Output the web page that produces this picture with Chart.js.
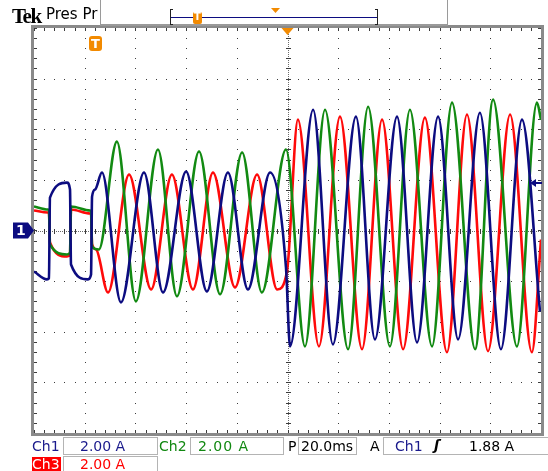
<!DOCTYPE html>
<html>
<head>
<meta charset="utf-8">
<script src="https://cdn.jsdelivr.net/npm/chart.js@4.4.1/dist/chart.umd.min.js"></script>
<style>
    body { margin: 0; background: #fff; }
    #scope { position: relative; width: 548px; height: 471px; overflow: hidden; font-family: 'DejaVu Sans', sans-serif; }
    #scope canvas { position: absolute; left: 0; top: 0; }
    .lbl { position: absolute; white-space: nowrap; font-size: 14px; line-height: 16px; }
    .box { position: absolute; border: 1px solid #b4b4b4; box-sizing: border-box; height: 18px; }
</style>
</head>
<body>
<div id="scope">
    <canvas id="scopeChart" width="548" height="471"></canvas>

    <div class="lbl" style="left:12px;top:4px;font:bold 21px 'Liberation Serif',serif;letter-spacing:-1.5px;">Tek</div>
    <div class="lbl" style="left:46px;top:6px;font-size:15px;">Pres Pr</div>
    <div class="lbl" style="left:194px;top:11px;color:#fff;font:bold 10px 'DejaVu Sans',sans-serif;">T</div>
    <div class="lbl" style="left:91px;top:36px;color:#fff;font:bold 13px 'DejaVu Sans',sans-serif;">T</div>
    <div class="lbl" style="left:16px;top:222px;color:#fff;font:bold 14px 'DejaVu Sans',sans-serif;">1</div>

    <div class="lbl" style="left:32px;top:438px;color:#1a1a8c;">Ch1</div>
    <div class="box" style="left:63px;top:437px;width:95px;"></div>
    <div class="lbl" style="left:80px;top:438px;color:#1a1a8c;">2.00 A</div>
    <div class="lbl" style="left:159px;top:438px;color:#118811;">Ch2</div>
    <div class="box" style="left:190px;top:437px;width:94px;"></div>
    <div class="lbl" style="left:198px;top:438px;color:#118811;letter-spacing:1px;">2.00 A</div>
    <div class="lbl" style="left:288px;top:438px;color:#000;">P</div>
    <div class="box" style="left:298px;top:437px;width:59px;"></div>
    <div class="lbl" style="left:301px;top:438px;color:#000;">20.0ms</div>
    <div class="lbl" style="left:370px;top:438px;color:#000;">A</div>
    <div class="box" style="left:383px;top:437px;width:170px;"></div>
    <div class="lbl" style="left:395px;top:438px;color:#1a1a8c;">Ch1</div>
    <div class="lbl" style="left:434px;top:437px;color:#000;font-weight:bold;font-style:italic;">ʃ</div>
    <div class="lbl" style="left:469px;top:438px;color:#000;">1.88 A</div>

    <div class="lbl" style="left:32px;top:457px;width:29px;height:14px;background:#ff0000;color:#fff;line-height:15px;">Ch3</div>
    <div class="box" style="left:63px;top:456px;width:95px;height:16px;"></div>
    <div class="lbl" style="left:80px;top:456px;color:#ff0000;">2.00 A</div>
</div>

<script>
// Horizontal 20 ms/div over 10 div, vertical 2 A/div over 8 div
const timeDivs = [0, 20, 40, 60, 80, 100, 120, 140, 160, 180, 200];
const ampDivs = [-8, -6, -4, -2, 0, 2, 4, 6, 8];

// Ch1 (blue), time in ms, current in A
const ch1Time = [0, 5.1, 5.9, 6.3, 13.0, 14.2, 14.6, 21.3, 22.5, 22.9, 24.1, 26.8, 34.3, 43.4, 50.9, 60.0, 68.2, 76.5, 84.4, 93.1,
    99.4, 101.0, 110.1, 117.9, 127.0, 134.5, 143.2, 151.1, 159.4, 167.3, 175.9, 184.2, 192.5, 199.6];
const ch1Amps = [-1.62, -1.93, -1.89, 1.30, 1.89, 1.62, -1.34, -1.93, -1.74, 1.34, 1.62, 2.29, -2.84, 2.29, -2.45, 2.33, -2.41, 2.29, -2.33, 2.29,
    -1.46, -4.58, 4.77, -4.50, 4.50, -4.30, 4.50, -4.42, 4.50, -4.30, 4.65, -4.69, 4.38, -3.2];

// Ch2 (green)
const ch2Time = [0, 5.5, 5.9, 6.3, 13.0, 14.2, 14.6, 22.1, 22.5, 22.9, 25.6, 32.7, 40.2, 48.9, 56.4, 65.1, 73.4, 82.1, 89.9, 99.4,
    106.9, 114.8, 123.9, 131.8, 140.4, 148.3, 157.0, 164.9, 174.0, 181.1, 190.5, 198.4, 200];
const ch2Amps = [0.95, 0.83, 0.82, -0.55, -0.95, -0.87, 0.95, 0.79, 0.78, -0.63, -0.75, 3.51, -2.80, 3.20, -2.60, 3.12, -2.52, 3.08, -2.45, 3.2,
    -4.58, 4.77, -4.69, 4.89, -4.58, 4.77, -4.58, 5.05, -4.69, 5.17, -4.58, 5.05, 4.38];

// Ch3 (red)
const ch3Time = [0, 5.5, 5.9, 6.3, 13.0, 14.2, 14.6, 22.1, 22.5, 22.9, 24.5, 29.2, 37.5, 46.2, 54.4, 62.7, 70.6, 79.3, 88.0, 95.9,
    99.8, 104.1, 112.4, 120.7, 129.4, 137.3, 145.6, 154.2, 162.9, 170.8, 179.1, 187.8, 196.4, 200];
const ch3Amps = [0.79, 0.71, 0.70, -0.47, -1.03, -0.95, 0.83, 0.67, 0.66, -0.55, -0.75, -2.45, 2.21, -2.33, 2.21, -2.33, 2.29, -2.25, 2.21, -2.33,
    -1.62, 4.38, -4.58, 4.50, -4.69, 4.38, -4.69, 4.46, -4.81, 4.58, -4.77, 4.58, -4.81, -0.36];

const triggerLevel = 1.88;

const COLORS = {
    ch1: '#0c0c80',
    ch2: '#128a12',
    ch3: '#ff0a0a',
    orange: '#f28a00',
    grid: '#3c3c3c',
    frame: '#8a8a8a'
};

function toPoints(times, amps) {
    return times.map((t, i) => ({ x: t, y: amps[i] }));
}

// Tek style graticule: dotted division lines, ticked centre cross, ticked frame
const graticule = {
    id: 'graticule',
    beforeDatasetsDraw(chart) {
        const { ctx, chartArea: a, scales: { x, y } } = chart;
        ctx.save();
        ctx.fillStyle = COLORS.grid;
        const minorT = [], minorA = [];
        for (let t = 0; t <= 200.001; t += 4) minorT.push(x.getPixelForValue(t));
        for (let v = -8; v <= 8.001; v += 0.4) minorA.push(y.getPixelForValue(v));

        timeDivs.slice(1, -1).forEach(t => {
            if (t === 100) return;
            const px = Math.round(x.getPixelForValue(t));
            minorA.forEach(py => ctx.fillRect(px, Math.round(py), 1, 1));
        });
        ampDivs.slice(1, -1).forEach(v => {
            if (v === 0) return;
            const py = Math.round(y.getPixelForValue(v));
            minorT.forEach(px => ctx.fillRect(Math.round(px), py, 1, 1));
        });

        // centre cross
        const cx = Math.round(x.getPixelForValue(100));
        const cy = Math.round(y.getPixelForValue(0));
        ctx.fillStyle = '#6a6a6a';
        for (let px = a.left; px <= a.right; px += 2) ctx.fillRect(px, cy, 1, 1);
        for (let py = a.top; py <= a.bottom; py += 2) ctx.fillRect(cx, py, 1, 1);
        ctx.fillStyle = COLORS.grid;
        minorT.forEach(px => ctx.fillRect(Math.round(px), cy - 2, 1, 5));
        minorA.forEach(py => ctx.fillRect(cx - 2, Math.round(py), 5, 1));

        // frame ticks
        minorT.forEach(px => {
            ctx.fillRect(Math.round(px), a.top, 1, 3);
            ctx.fillRect(Math.round(px), a.bottom - 3, 1, 3);
        });
        minorA.forEach(py => {
            ctx.fillRect(a.left, Math.round(py), 3, 1);
            ctx.fillRect(a.right - 3, Math.round(py), 3, 1);
        });

        ctx.strokeStyle = COLORS.frame;
        ctx.lineWidth = 3;
        ctx.strokeRect(a.left - 1.5, a.top - 1.5, a.right - a.left + 3, a.bottom - a.top + 3);
        ctx.restore();
    }
};

// Screen furniture: record bar, trigger markers, channel marker
const furniture = {
    id: 'furniture',
    afterDraw(chart) {
        const { ctx, chartArea: a, scales: { x, y } } = chart;
        ctx.save();
        ctx.fillStyle = '#9a9a9a';
        ctx.fillRect(100, 0, 1, 26);
        ctx.fillRect(100, 24, 348, 2);
        ctx.fillRect(447, 0, 1, 26);

        // record length bracket
        ctx.fillStyle = '#222';
        ctx.fillRect(170, 9, 1, 16);
        ctx.fillRect(170, 9, 3, 1);
        ctx.fillRect(170, 24, 3, 1);
        ctx.fillRect(377, 9, 1, 16);
        ctx.fillRect(375, 9, 3, 1);
        ctx.fillRect(375, 24, 3, 1);
        ctx.fillStyle = COLORS.ch1;
        ctx.fillRect(171, 17, 206, 1);

        ctx.fillStyle = COLORS.orange;
        ctx.beginPath();
        ctx.roundRect(193, 12, 9, 12, 2);
        ctx.fill();
        ctx.beginPath();
        ctx.moveTo(271, 8); ctx.lineTo(280, 8); ctx.lineTo(275.5, 13); ctx.closePath();
        ctx.fill();

        // trigger position marker on the graticule
        const cx = x.getPixelForValue(100);
        ctx.beginPath();
        ctx.moveTo(cx - 6, a.top); ctx.lineTo(cx + 6, a.top); ctx.lineTo(cx, a.top + 7); ctx.closePath();
        ctx.fill();
        ctx.beginPath();
        ctx.roundRect(89, 36, 13, 15, 3);
        ctx.fill();

        // channel 1 ground marker
        const gy = y.getPixelForValue(0);
        ctx.fillStyle = COLORS.ch1;
        ctx.beginPath();
        ctx.moveTo(13, gy - 8); ctx.lineTo(28, gy - 8); ctx.lineTo(34, gy);
        ctx.lineTo(28, gy + 8); ctx.lineTo(13, gy + 8); ctx.closePath();
        ctx.fill();

        // trigger level arrow
        const ty = Math.round(y.getPixelForValue(triggerLevel));
        ctx.fillRect(534, ty - 1, 8, 2);
        ctx.beginPath();
        ctx.moveTo(530, ty); ctx.lineTo(536, ty - 4); ctx.lineTo(536, ty + 4); ctx.closePath();
        ctx.fill();
        ctx.restore();
    }
};

const traceStyle = {
    borderWidth: 2.6,
    pointRadius: 0,
    fill: false,
    cubicInterpolationMode: 'monotone'
};

new Chart(document.getElementById('scopeChart'), {
    type: 'line',
    data: {
        datasets: [
            Object.assign({ label: 'Ch1', data: toPoints(ch1Time, ch1Amps), borderColor: COLORS.ch1, order: 1 }, traceStyle),
            Object.assign({ label: 'Ch2', data: toPoints(ch2Time, ch2Amps), borderColor: COLORS.ch2, order: 2 }, traceStyle),
            Object.assign({ label: 'Ch3', data: toPoints(ch3Time, ch3Amps), borderColor: COLORS.ch3, order: 3 }, traceStyle)
        ]
    },
    options: {
        responsive: false,
        animation: false,
        layout: { padding: { left: 34, right: 7, top: 28, bottom: 38 } },
        plugins: { legend: { display: false }, tooltip: { enabled: false } },
        scales: {
            x: { type: 'linear', min: 0, max: 200, display: false },
            y: { min: -8, max: 8, display: false }
        }
    },
    plugins: [graticule, furniture]
});
</script>
</body>
</html>
